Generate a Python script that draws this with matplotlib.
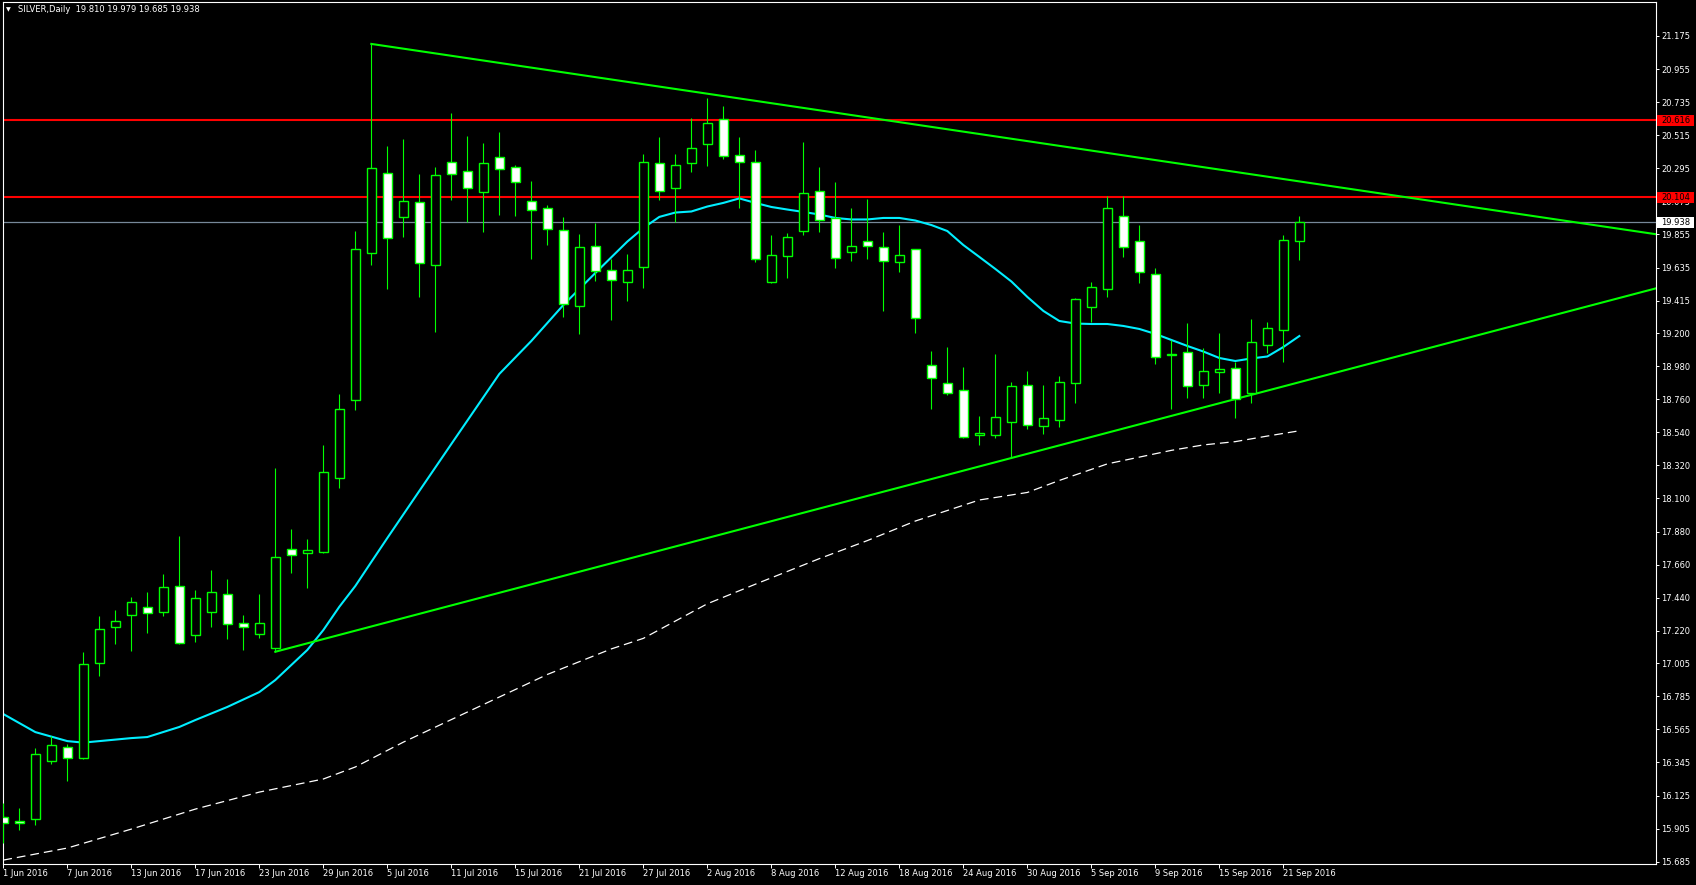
import matplotlib
matplotlib.use("Agg")
import matplotlib.pyplot as plt
import matplotlib.transforms as mtransforms
from matplotlib.patches import Rectangle
import numpy as np

# daily candles SILVER, 1 Jun 2016 .. 22 Sep 2016 (one entry per trading day)
opens = [15.982, 15.957, 15.967, 16.353, 16.446, 16.372, 17.004, 17.243, 17.323, 17.380,
         17.343, 17.520, 17.190, 17.343, 17.467, 17.270, 17.201, 17.104, 17.762, 17.735,
         17.742, 18.234, 18.753, 19.730, 20.262, 19.970, 20.069, 19.650, 20.335, 20.275,
         20.136, 20.368, 20.302, 20.080, 20.029, 19.883, 19.378, 19.777, 19.617, 19.541,
         19.641, 20.329, 20.162, 20.329, 20.455, 20.621, 20.382, 20.335, 19.541, 19.710,
         19.876, 20.142, 19.963, 19.737, 19.810, 19.770, 19.670, 19.757, 18.985, 18.866,
         18.821, 18.525, 18.520, 18.607, 18.853, 18.580, 18.620, 18.866, 19.375, 19.491,
         19.976, 19.810, 19.591, 19.055, 19.072, 18.853, 18.939, 18.966, 18.799, 19.118,
         19.222, 19.810]
highs = [16.075, 16.040, 16.439, 16.521, 16.466, 17.079, 17.319, 17.358, 17.443, 17.476,
         17.598, 17.850, 17.491, 17.624, 17.565, 17.325, 17.465, 18.303, 17.895, 17.829,
         18.456, 18.795, 19.878, 21.122, 20.444, 20.490, 20.257, 20.304, 20.663, 20.510,
         20.464, 20.537, 20.317, 20.211, 20.051, 19.972, 19.858, 19.934, 19.694, 19.725,
         20.390, 20.503, 20.390, 20.630, 20.763, 20.710, 20.503, 20.417, 19.852, 19.867,
         20.470, 20.304, 20.204, 20.031, 20.091, 19.872, 19.918, 19.760, 19.081, 19.107,
         18.974, 18.648, 19.061, 18.872, 18.950, 18.855, 18.916, 19.435, 19.539, 20.111,
         20.111, 19.918, 19.632, 19.154, 19.267, 19.099, 19.200, 19.005, 19.293, 19.273,
         19.852, 19.979]
lows = [15.809, 15.896, 15.929, 16.334, 16.224, 16.366, 16.922, 17.132, 17.088, 17.208,
        17.319, 17.130, 17.148, 17.247, 17.164, 17.092, 17.174, 17.081, 17.606, 17.507,
        17.738, 18.172, 18.688, 19.652, 19.495, 19.841, 19.442, 19.209, 20.087, 19.938,
        19.874, 19.987, 19.980, 19.694, 19.787, 19.309, 19.196, 19.548, 19.289, 19.415,
        19.501, 20.087, 19.938, 20.273, 20.313, 20.355, 20.033, 19.674, 19.533, 19.568,
        19.852, 19.874, 19.634, 19.681, 19.694, 19.349, 19.608, 19.202, 18.697, 18.788,
        18.500, 18.456, 18.500, 18.374, 18.560, 18.527, 18.573, 18.733, 19.275, 19.442,
        19.708, 19.535, 18.996, 18.697, 18.770, 18.770, 18.803, 18.637, 18.737, 19.069,
        19.009, 19.685]
closes = [15.942, 15.940, 16.401, 16.459, 16.372, 16.997, 17.230, 17.283, 17.410, 17.337,
          17.509, 17.137, 17.436, 17.476, 17.263, 17.243, 17.270, 17.709, 17.722, 17.755,
          18.274, 18.693, 19.757, 20.295, 19.830, 20.076, 19.664, 20.249, 20.255, 20.162,
          20.329, 20.289, 20.202, 20.016, 19.890, 19.391, 19.770, 19.610, 19.551, 19.617,
          20.335, 20.142, 20.315, 20.428, 20.595, 20.375, 20.335, 19.690, 19.717, 19.837,
          20.129, 19.950, 19.697, 19.777, 19.777, 19.677, 19.717, 19.298, 18.899, 18.799,
          18.507, 18.535, 18.642, 18.846, 18.587, 18.633, 18.872, 19.424, 19.504, 20.029,
          19.774, 19.604, 19.039, 19.062, 18.846, 18.946, 18.959, 18.763, 19.138, 19.232,
          19.817, 19.938]

xtick_labels = ["1 Jun 2016", "7 Jun 2016", "13 Jun 2016", "17 Jun 2016", "23 Jun 2016",
                "29 Jun 2016", "5 Jul 2016", "11 Jul 2016", "15 Jul 2016", "21 Jul 2016",
                "27 Jul 2016", "2 Aug 2016", "8 Aug 2016", "12 Aug 2016", "18 Aug 2016",
                "24 Aug 2016", "30 Aug 2016", "5 Sep 2016", "9 Sep 2016", "15 Sep 2016",
                "21 Sep 2016"]
xtick_bars = list(range(0, 81, 4))

ytick_labels = ["21.175", "20.955", "20.735", "20.515", "20.295", "20.075", "19.855",
                "19.635", "19.415", "19.200", "18.980", "18.760", "18.540", "18.320",
                "18.100", "17.880", "17.660", "17.440", "17.220", "17.005", "16.785",
                "16.565", "16.345", "16.125", "15.905", "15.685"]

# cyan moving average
ma_fast_bars = [0, 2, 4, 5, 8, 9, 11, 12, 14, 16, 17, 18, 19, 20, 21, 22, 23, 24, 26, 28, 31,
                33, 35, 37, 39, 40, 41, 42, 43, 44, 45, 46, 47, 48, 49, 50, 51, 52, 53, 54,
                55, 56, 57, 58, 59, 60, 61, 62, 63, 64, 65, 66, 67, 68, 69, 70, 71, 72, 73,
                74, 75, 76, 77, 78, 79, 80, 81]
ma_fast = [16.667, 16.547, 16.487, 16.477, 16.507, 16.514, 16.581, 16.627, 16.714, 16.813,
           16.893, 16.993, 17.093, 17.225, 17.380, 17.518, 17.678, 17.837, 18.150, 18.462,
           18.928, 19.147, 19.386, 19.599, 19.808, 19.898, 19.972, 20.001, 20.008, 20.041,
           20.065, 20.095, 20.065, 20.038, 20.021, 20.005, 19.988, 19.965, 19.955, 19.955,
           19.965, 19.965, 19.948, 19.918, 19.878, 19.785, 19.706, 19.626, 19.543, 19.440,
           19.347, 19.280, 19.263, 19.260, 19.260, 19.247, 19.227, 19.194, 19.154, 19.114,
           19.077, 19.034, 19.014, 19.031, 19.044, 19.107, 19.180]

# white dashed long moving average
ma_slow_bars = [0, 4, 8, 12, 16, 20, 22, 25, 28, 31, 34, 38, 40, 44, 47, 51, 54, 57, 61,
                64, 66, 69, 73, 75, 77, 79, 81]
ma_slow = [15.696, 15.776, 15.902, 16.035, 16.148, 16.235, 16.315, 16.480, 16.630, 16.780,
           16.930, 17.100, 17.170, 17.400, 17.530, 17.700, 17.820, 17.950, 18.090, 18.140,
           18.220, 18.330, 18.420, 18.456, 18.478, 18.515, 18.550]

levels = [20.616, 20.104]
bid = 19.938
upper_trend = [(23, 21.122), (81, 20.208)]
lower_trend = [(17, 17.081), (81, 18.873)]

W, H = 1696, 885
fig = plt.figure(figsize=(W / 100, H / 100), dpi=100, facecolor="black")
ax = fig.add_axes([2.5 / W, 1 - 864 / H, (1656 - 2.5) / W, (864 - 1.5) / H])
ax.set_facecolor("black")
plt.rcParams["font.family"] = ["DejaVu Sans"]
fs = 6

x = np.arange(len(opens))
o = np.array(opens); c = np.array(closes)
bull = c >= o

# horizontal levels
for lv in levels:
    ax.axhline(lv, color="#ff0000", lw=1.5, zorder=1)
ax.axhline(bid, color="#778899", lw=0.9, zorder=1)

# wicks and bodies
ax.vlines(x, lows, highs, color="#00ff00", lw=0.8, zorder=3)
ax.bar(x, np.abs(c - o), bottom=np.minimum(o, c), width=0.58,
       color=np.where(bull, "black", "white"), edgecolor="#00ff00", linewidth=1.0, zorder=4)

# moving averages
ax.plot(ma_fast_bars, ma_fast, color="#00eeff", lw=1.5, zorder=2)
ax.plot(ma_slow_bars, ma_slow, color="white", lw=0.9, ls=(0, (7, 4)), zorder=2)

# trend lines (rays to the right)
for (b1, v1), (b2, v2) in (upper_trend, lower_trend):
    slope = (v2 - v1) / (b2 - b1)
    ax.plot([b1, 105], [v1, v1 + slope * (105 - b1)], color="#00ff00", lw=1.5, zorder=2)

ax.set_xlim(-0.05, 103.29)
ax.set_ylim(15.670, 21.404)

for s in ax.spines.values():
    s.set_color("white")
    s.set_linewidth(0.8)

ax.yaxis.tick_right()
ax.set_yticks([float(t) for t in ytick_labels])
ax.set_yticklabels(ytick_labels)
ax.set_xticks(xtick_bars)
ax.set_xticklabels(xtick_labels)
ax.tick_params(axis="y", direction="out", length=2.2, width=0.7, pad=1.5,
               colors="white", labelsize=fs)
ax.tick_params(axis="x", direction="out", length=2.8, width=0.7, pad=0.5,
               colors="white", labelsize=fs)
for lab in ax.get_xticklabels():
    lab.set_horizontalalignment("left")

# price labels on the right scale
bt = mtransforms.blended_transform_factory(fig.transFigure, ax.transData)
box_h = 11 / 150.4
for val, fc in [(levels[0], "#ff0000"), (levels[1], "#ff0000"), (bid, "white")]:
    ax.add_patch(Rectangle((1657 / W, val - box_h / 2), 37 / W, box_h, transform=bt,
                           facecolor=fc, edgecolor="none", clip_on=False, zorder=5))
    ax.text(1661.5 / W, val, f"{val:.3f}", transform=bt, ha="left", va="center",
            color="black", fontsize=fs, zorder=6, clip_on=False)

fig.text(6 / W, 1 - 10 / H, "\u25bc", color="white", fontsize=4.5, va="center", ha="left")
fig.text(18 / W, 1 - 10 / H, "SILVER,Daily  19.810 19.979 19.685 19.938",
         color="white", fontsize=fs, va="center", ha="left")

fig.savefig("out.png", dpi=100, facecolor="black")
